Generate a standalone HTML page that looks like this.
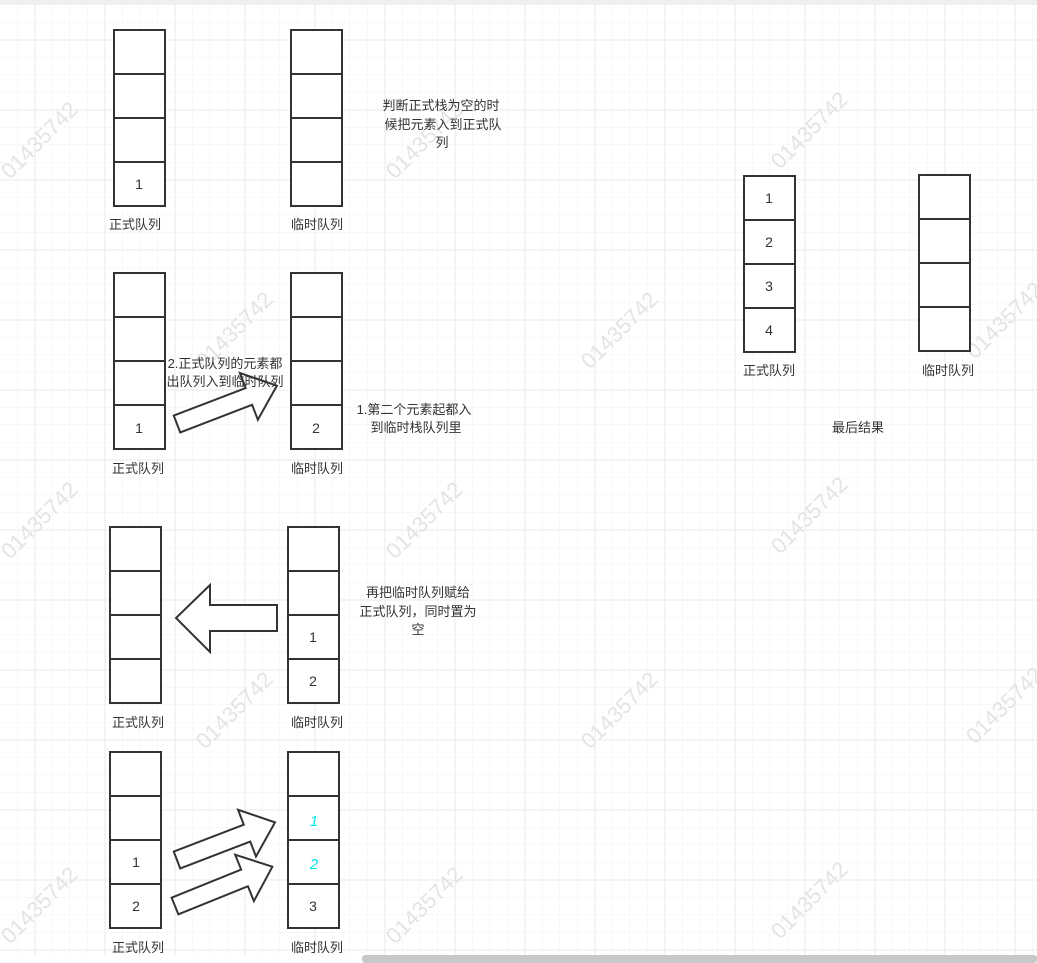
<!DOCTYPE html>
<html><head><meta charset="utf-8"><style>
html,body{margin:0;padding:0;background:#fff}
body{width:1037px;height:963px;overflow:hidden;position:relative;font-family:"Liberation Sans","Noto Sans CJK SC",sans-serif}
</style></head><body>
<svg width="1037" height="963" xmlns="http://www.w3.org/2000/svg" style="position:absolute;left:0;top:0">
<defs>
<pattern id="g" x="0" y="5" width="17.5" height="17.5" patternUnits="userSpaceOnUse">
<path d="M17.5 0V17.5M0 17.5H17.5" stroke="#f0f0f0" stroke-width="1" fill="none"/>
</pattern>
<pattern id="G" x="0" y="5" width="70" height="70" patternUnits="userSpaceOnUse">
<path d="M35 0V70M0 35H70" stroke="#eaeaea" stroke-width="1" fill="none"/>
</pattern>
<g id="stk" fill="#fff" stroke="#333" stroke-width="2">
<rect x="0" y="0" width="51" height="44"/><rect x="0" y="44" width="51" height="44"/><rect x="0" y="88" width="51" height="44"/><rect x="0" y="132" width="51" height="44"/>
</g>
</defs>
<rect x="0" y="5" width="1037" height="950" fill="url(#g)"/>
<rect x="0" y="5" width="1037" height="950" fill="url(#G)"/>
<rect x="0" y="0" width="1037" height="5" fill="#efefef"/>
<rect x="362" y="955" width="675" height="8" rx="3" fill="#c8c8c8"/>
<g font-size="22" fill="#e4e4e4" font-family="Liberation Sans,sans-serif">
<text transform="translate(10,180) rotate(-45)">01435742</text>
<text transform="translate(395,180) rotate(-45)">01435742</text>
<text transform="translate(780,170) rotate(-45)">01435742</text>
<text transform="translate(205,370) rotate(-45)">01435742</text>
<text transform="translate(590,370) rotate(-45)">01435742</text>
<text transform="translate(975,360) rotate(-45)">01435742</text>
<text transform="translate(10,560) rotate(-45)">01435742</text>
<text transform="translate(395,560) rotate(-45)">01435742</text>
<text transform="translate(780,555) rotate(-45)">01435742</text>
<text transform="translate(205,750) rotate(-45)">01435742</text>
<text transform="translate(590,750) rotate(-45)">01435742</text>
<text transform="translate(975,745) rotate(-45)">01435742</text>
<text transform="translate(10,945) rotate(-45)">01435742</text>
<text transform="translate(395,945) rotate(-45)">01435742</text>
<text transform="translate(780,940) rotate(-45)">01435742</text>
</g>
<use href="#stk" x="114" y="30"/><use href="#stk" x="291" y="30"/>
<use href="#stk" x="114" y="273"/><use href="#stk" x="291" y="273"/>
<use href="#stk" x="110" y="527"/><use href="#stk" x="288" y="527"/>
<use href="#stk" x="110" y="752"/><use href="#stk" x="288" y="752"/>
<use href="#stk" x="744" y="176"/><use href="#stk" x="919" y="175"/>
<g fill="#fff" stroke="#333" stroke-width="2">
<polygon transform="translate(177,424) rotate(-21)" points="0,-9 77,-9 77,-25 107,0 77,25 77,9 0,9"/>
<polygon points="277,605 210,605 210,585 176,618 210,652 210,631 277,631"/>
<polygon transform="translate(177,860) rotate(-21)" points="0,-9 75,-9 75,-25 105,0 75,25 75,9 0,9"/>
<polygon transform="translate(175,906) rotate(-22)" points="0,-9 75,-9 75,-25 105,0 75,25 75,9 0,9"/>
</g>
<g font-size="14" fill="#333" text-anchor="middle" font-family="Liberation Sans,Noto Sans CJK SC,sans-serif">
<text x="139" y="189">1</text>
<text x="139" y="433">1</text><text x="316" y="433">2</text>
<text x="313" y="642">1</text><text x="313" y="686">2</text>
<text x="136" y="867">1</text><text x="136" y="911">2</text>
<text x="313" y="911">3</text>
<text x="769" y="203">1</text><text x="769" y="247">2</text><text x="769" y="291">3</text><text x="769" y="335">4</text>
</g>
<g font-size="15" fill="#00e5ee" text-anchor="middle" font-style="italic">
<text x="314" y="826">1</text><text x="314" y="869">2</text>
</g>
<g font-size="13" fill="#333" text-anchor="middle" font-family="Liberation Sans,Noto Sans CJK SC,sans-serif">
<text x="135" y="229">正式队列</text><text x="317" y="229">临时队列</text>
<text x="138" y="473">正式队列</text><text x="317" y="473">临时队列</text>
<text x="138" y="727">正式队列</text><text x="317" y="727">临时队列</text>
<text x="138" y="952">正式队列</text><text x="317" y="952">临时队列</text>
<text x="769" y="375">正式队列</text><text x="948" y="375">临时队列</text>
<text x="441" y="110">判断正式栈为空的时</text>
<text x="443" y="129">候把元素入到正式队</text>
<text x="442" y="147">列</text>
<text x="225" y="368">2.正式队列的元素都</text>
<text x="225" y="386">出队列入到临时队列</text>
<text x="414" y="414">1.第二个元素起都入</text>
<text x="416" y="432">到临时栈队列里</text>
<text x="418" y="597">再把临时队列赋给</text>
<text x="418" y="616">正式队列，同时置为</text>
<text x="418" y="634">空</text>
<text x="858" y="432">最后结果</text>
</g>
</svg>
</body></html>
